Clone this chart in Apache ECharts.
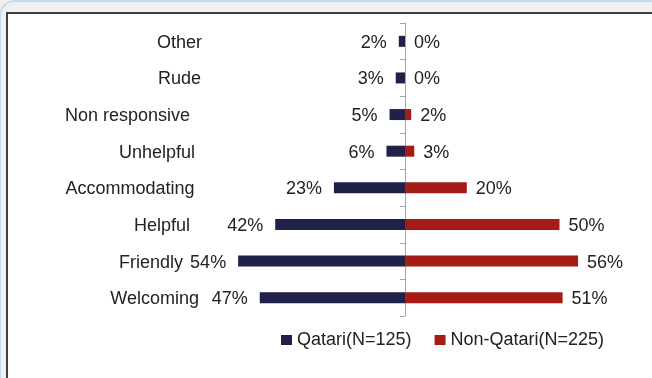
<!DOCTYPE html>
<html>
<head>
<meta charset="utf-8">
<script src="https://cdn.jsdelivr.net/npm/echarts@6/dist/echarts.min.js"></script>
<style>
  html, body { margin: 0; padding: 0; width: 652px; height: 378px; overflow: hidden; background: #f0f0f0; }
  #frame { position: absolute; left: -1px; top: 0px; width: 720px; height: 520px;
           border: 2px solid #c3dcef; border-radius: 16px; box-sizing: border-box; }
  #panel { position: absolute; left: 6px; top: 12px; width: 720px; height: 520px;
           background: #fff; border-left: 2px solid #404040; border-top: 2px solid #404040; }
  #chart { position: absolute; left: 0; top: 0; width: 652px; height: 378px; }
</style>
</head>
<body>
<div id="frame"></div>
<div id="panel"></div>
<div id="chart"></div>
<script>
// Perceived attitude of staff, share of respondents (%)
const categories = ['Other', 'Rude', 'Non responsive', 'Unhelpful', 'Accommodating', 'Helpful', 'Friendly', 'Welcoming'];
const qatari = [2, 3, 5, 6, 23, 42, 54, 47];
const nonQatari = [0, 0, 2, 3, 20, 50, 56, 51];
const seriesNames = ['Qatari(N=125)', 'Non-Qatari(N=225)'];

// extra right padding per category label (label layout only)
const labelShift = [0, 1, 12, 7, 7.5, 12, 19, 3];

const FONT = "'Liberation Sans', Arial, Helvetica, sans-serif";
const TEXT = '#222222';
const NAVY = '#1f2148';
const RED = '#a51c17';

const rich = {};
labelShift.forEach((s, i) => {
  rich['c' + i] = { fontSize: 18, fontFamily: FONT, color: TEXT, padding: [3, s, 0, 0] };
});

const chart = echarts.init(document.getElementById('chart'), null, { renderer: 'canvas' });
chart.setOption({
  backgroundColor: 'transparent',
  animation: false,
  grid: { left: 188.7, right: 30.7, top: 23, bottom: 62, containLabel: false, outerBoundsMode: 'none' },
  legend: {
    data: seriesNames,
    left: 276, top: 326,
    icon: 'rect', itemWidth: 11, itemHeight: 10, itemGap: 23,
    textStyle: { fontSize: 18, fontFamily: FONT, color: TEXT }
  },
  xAxis: {
    type: 'value', min: -70, max: 70,
    axisLine: { show: false }, axisTick: { show: false },
    axisLabel: { show: false }, splitLine: { show: false }
  },
  yAxis: [
    {
      // category names on the left
      type: 'category',
      data: categories,
      inverse: true,
      position: 'left',
      offset: -13.3,
      axisLine: { show: false, onZero: false },
      axisTick: { show: false },
      axisLabel: {
        margin: 0,
        fontSize: 18, fontFamily: FONT, color: TEXT,
        formatter: (v, i) => '{c' + i + '|' + v + '}',
        rich: rich
      },
      splitLine: { show: false }
    },
    {
      // centre axis line with boundary ticks
      type: 'category',
      data: categories,
      inverse: true,
      position: 'left',
      axisLine: { show: true, onZero: true, lineStyle: { color: '#a6a6a6', width: 1 } },
      axisTick: { show: true, length: 5, lineStyle: { color: '#a6a6a6' } },
      axisLabel: { show: false },
      splitLine: { show: false }
    }
  ],
  series: [
    {
      name: seriesNames[0],
      type: 'bar',
      yAxisIndex: 0,
      data: qatari.map(v => -v),
      barWidth: 11,
      barGap: '-100%',
      itemStyle: { color: NAVY },
      label: {
        show: true, position: 'left', distance: 12, offset: [0, 1.5],
        fontSize: 18, fontFamily: FONT, color: TEXT,
        formatter: p => Math.abs(p.value) + '%'
      }
    },
    {
      name: seriesNames[1],
      type: 'bar',
      yAxisIndex: 0,
      data: nonQatari,
      barWidth: 11,
      barGap: '-100%',
      itemStyle: { color: RED },
      label: {
        show: true, position: 'right', distance: 9, offset: [0, 1.5],
        fontSize: 18, fontFamily: FONT, color: TEXT,
        formatter: p => p.value + '%'
      }
    }
  ]
});
</script>
</body>
</html>
